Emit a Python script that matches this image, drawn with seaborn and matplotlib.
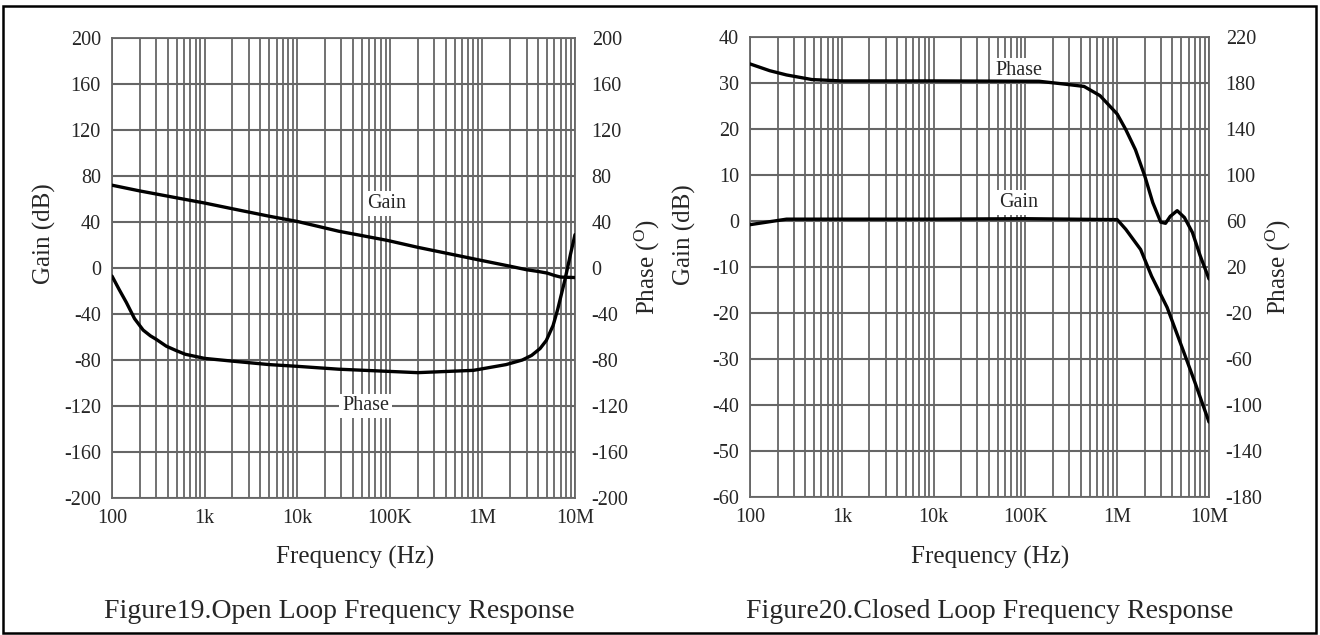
import numpy as np
import pandas as pd
import matplotlib
matplotlib.use("Agg")
import matplotlib.pyplot as plt
import seaborn as sns
from matplotlib.patches import Rectangle

# ---------------- data ----------------
xtick_vals = [1e2, 1e3, 1e4, 1e5, 1e6, 1e7]
xtick_labels = ["100", "1k", "10k", "100K", "1M", "10M"]

# Figure 19 - open loop
open_gain_f = [100, 200, 500, 1e3, 2e3, 5e3, 1e4, 2.8e4, 9.4e4, 2e5, 1e6, 2e6, 3e6, 4e6, 5e6, 6e6, 7e6, 1e7]
open_gain_db = [72, 67, 61, 56.5, 51.5, 45, 40.5, 32, 24, 18, 6.4, 1.5, -1.5, -3, -4.4, -6.5, -7.9, -8.3]
open_phase_f = [100, 120, 143, 175, 217, 260, 300, 386, 500, 618, 1e3, 2e3, 5e3, 1e4, 2.8e4, 2e5, 8e5,
                1.8e6, 2.7e6, 3.4e6, 4.2e6, 4.9e6, 5.8e6, 6.5e6, 7.8e6, 9e6, 1e7]
open_phase_deg = [-7, -19, -30, -44, -54, -59, -62, -68, -72, -75, -78.6, -81, -84, -85.5, -88, -91, -89,
                  -84, -80, -76, -70, -63, -50, -36, -10, 13, 29]
open_gain_ticks = [200, 160, 120, 80, 40, 0, -40, -80, -120, -160, -200]
open_phase_ticks = [200, 160, 120, 80, 40, 0, -40, -80, -120, -160, -200]

# Figure 20 - closed loop
closed_gain_f = [100, 250, 1e3, 1e4, 1e5, 1e6, 1.24e6, 1.8e6, 2.37e6, 3.5e6, 5.2e6, 7e6, 1e7]
closed_gain_db = [-0.8, 0.4, 0.4, 0.4, 0.5, 0.3, -1.8, -6.2, -12, -18.8, -28, -35, -43.7]
closed_phase_f = [100, 164, 250, 472, 990, 1e4, 1.41e5, 2.7e5, 4.36e5, 6.5e5, 1e6, 1.24e6, 1.58e6,
                  2e6, 2.44e6, 2.98e6, 3.36e6, 3.78e6, 4.5e6, 5.4e6, 6.6e6, 8e6, 1e7]
closed_phase_deg = [196.6, 190.7, 187, 183, 181.8, 181.8, 181.5, 179, 177, 169, 153, 139.5, 122,
                    99, 76, 59, 58, 64, 69, 63, 50, 30, 9.6]
closed_gain_ticks = [40, 30, 20, 10, 0, -10, -20, -30, -40, -50, -60]
closed_phase_ticks = [220, 180, 140, 100, 60, 20, -20, -60, -100, -140, -180]

# ---------------- style ----------------
sns.set_style("white")
plt.rcParams['font.family'] = ['Liberation Serif', 'DejaVu Serif']
plt.rcParams['mathtext.fontset'] = 'custom'
plt.rcParams['mathtext.rm'] = 'Liberation Serif'
plt.rcParams['mathtext.it'] = 'Liberation Serif:italic'
plt.rcParams['axes.unicode_minus'] = False

W, H = 1320, 635
fig = plt.figure(figsize=(W / 100, H / 100), dpi=100)
fig.patch.set_facecolor("white")

GRID = "#666666"
CURVE = "black"


def px_axes(x0, y0, x1, y1):
    return fig.add_axes([x0 / W, 1 - y1 / H, (x1 - x0) / W, (y1 - y0) / H])


def build(ax, gticks, pticks, gf, gv, pf, pv):
    ax.set_xscale("log")
    ax.set_xlim(1e2, 1e7)
    ax.set_ylim(min(gticks), max(gticks))
    ax.set_yticks(gticks)
    ax.set_xticks(xtick_vals)
    ax.set_xticklabels(xtick_labels)
    minors = [m * 10 ** d for d in range(2, 7) for m in range(2, 10)]
    ax.set_xticks(minors, minor=True)
    ax.xaxis.set_minor_formatter(plt.NullFormatter())
    ax.grid(True, which="both", axis="x", color=GRID, lw=1.3)
    ax.grid(True, which="major", axis="y", color=GRID, lw=1.5)
    ax.tick_params(axis="both", which="both", length=0, labelsize=14.5)
    ax.tick_params(axis="y", pad=8)
    ax.tick_params(axis="x", pad=8)
    for s in ax.spines.values():
        s.set_color(GRID)
        s.set_linewidth(1.3)
    ax2 = ax.twinx()
    ax2.set_ylim(min(pticks), max(pticks))
    ax2.set_yticks(pticks)
    ax2.tick_params(axis="y", length=0, labelsize=14.5, pad=12)
    for s in ax2.spines.values():
        s.set_visible(False)
    sns.lineplot(x=gf, y=gv, ax=ax, color=CURVE, lw=2.4, sort=True, zorder=6)
    sns.lineplot(x=pf, y=pv, ax=ax2, color=CURVE, lw=2.4, sort=True, zorder=6)
    ax.set_xlabel("")
    ax.set_ylabel("")
    ax2.set_ylabel("")
    return ax2


axL = px_axes(112, 38, 575, 498)
axL2 = build(axL, open_gain_ticks, open_phase_ticks, open_gain_f, open_gain_db, open_phase_f, open_phase_deg)
axR = px_axes(750, 37, 1209, 497)
axR2 = build(axR, closed_gain_ticks, closed_phase_ticks, closed_gain_f, closed_gain_db, closed_phase_f, closed_phase_deg)

box = dict(facecolor="white", edgecolor="none", pad=2)
axL.text(9.3e4, 56, "Gain", fontsize=14.5, ha="center", va="center", bbox=box, zorder=5)
axL.text(5.5e4, -120, "Phase", fontsize=14.5, ha="center", va="center", bbox=box, zorder=5)
axR.text(8.5e4, 32.8, "Phase", fontsize=14.5, ha="center", va="center", bbox=box, zorder=5)
axR.text(8.5e4, 4.0, "Gain", fontsize=14.5, ha="center", va="center", bbox=box, zorder=5)


def ftext(x, y, s, **kw):
    fig.text(x / W, 1 - y / H, s, ha="center", va="center", **kw)


ftext(44, 234, "Gain (dB)", fontsize=18, rotation=90)
ftext(647, 267, r"Phase ($^{\rm O}$)", fontsize=18, rotation=90)
ftext(684, 235, "Gain (dB)", fontsize=18, rotation=90)
ftext(1278, 267, r"Phase ($^{\rm O}$)", fontsize=18, rotation=90)
ftext(355, 557, "Frequency (Hz)", fontsize=18)
ftext(990, 557, "Frequency (Hz)", fontsize=18)
ftext(339, 611, "Figure19.Open Loop Frequency Response", fontsize=20)
ftext(990, 611, "Figure20.Closed Loop Frequency Response", fontsize=20)

fig.patches.append(Rectangle((3 / W, 1 - 633 / H), 1313 / W, 627 / H, transform=fig.transFigure,
                             fill=False, edgecolor="black", lw=1.8))

fig.savefig("out.png", dpi=100, facecolor="white")
